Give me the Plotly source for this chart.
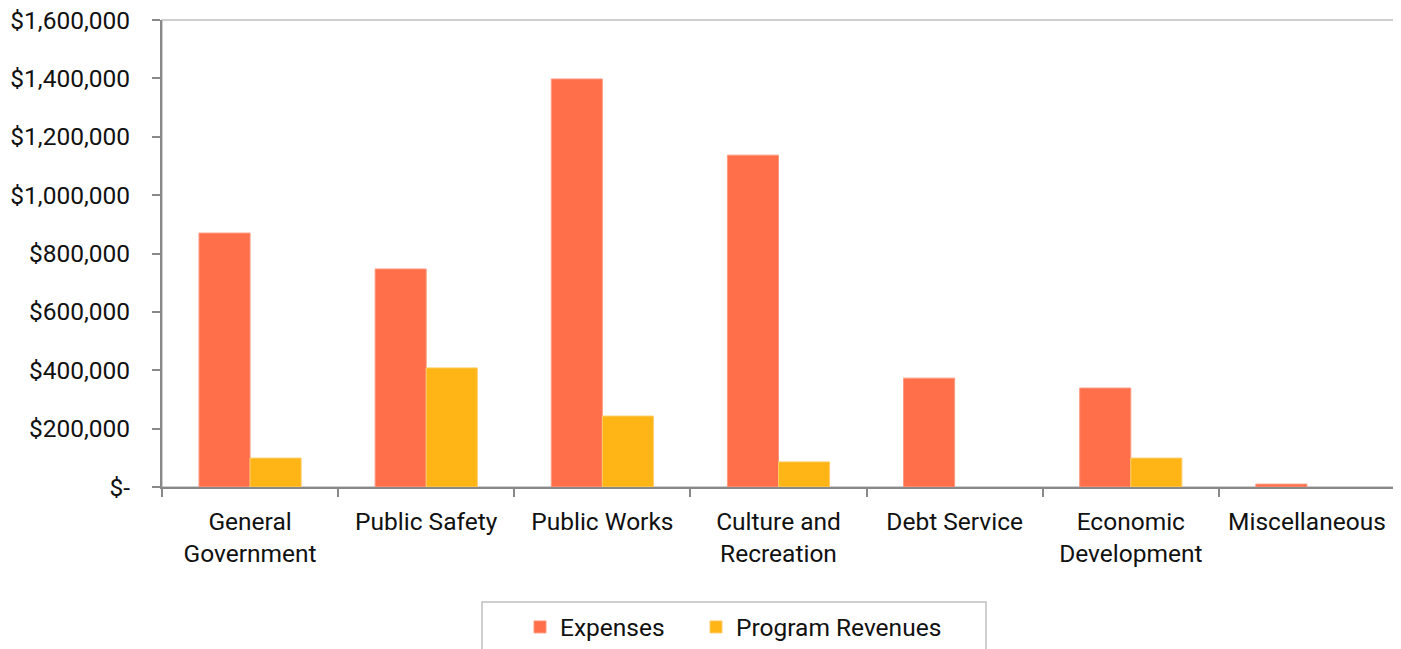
import plotly.graph_objects as go

categories = ["General<br>Government", "Public Safety", "Public Works", "Culture and<br>Recreation",
              "Debt Service", "Economic<br>Development", "Miscellaneous"]
expenses = [870000, 747000, 1398000, 1137000, 373000, 339000, 10000]
program_revenues = [99000, 408000, 243000, 86000, 0, 99000, 0]

tick_vals = [0, 200000, 400000, 600000, 800000, 1000000, 1200000, 1400000, 1600000]
tick_text = ["$-", "$200,000", "$400,000", "$600,000", "$800,000", "$1,000,000",
             "$1,200,000", "$1,400,000", "$1,600,000"]

# page body has an 8px margin; work in screen pixels and convert
OFF = 8
W, H = 1401 - OFF, 649 - OFF
# screen-space plot box
SX0, SX1, SY0, SY1 = 162, 1395, 20, 487
L = SX0 - OFF
T = SY0 - OFF
R = W - (SX1 - OFF)
B = H - (SY1 - OFF)
pw = W - L - R
ph = H - T - B

def px2x(x):
    return (x - OFF - L) / pw

def px2y(y):
    return (H - B - (y - OFF)) / ph

def cx(x):
    return (x - OFF) / W

def cy(y):
    return (H - (y - OFF)) / H

FONT = "Roboto"
FS = 24.5

fig = go.Figure()
fig.add_trace(go.Bar(x=categories, y=expenses, name="Expenses", legend="legend",
                     marker=dict(color="#FF6F4A",
                                 line=dict(color="#FF9A80",
                                           width=[1 if v > 0 else 0 for v in expenses]))))
fig.add_trace(go.Bar(x=categories, y=program_revenues, name="Program Revenues", legend="legend2",
                     marker=dict(color="#FFB515",
                                 line=dict(color="#FFCC66",
                                           width=[1 if v > 0 else 0 for v in program_revenues]))))

leg_common = dict(orientation="h", xref="container", yref="container",
                  xanchor="left", yanchor="middle", y=cy(627),
                  font=dict(family=FONT, size=FS, color="#111111"),
                  bgcolor="rgba(0,0,0,0)", borderwidth=0)

fig.update_layout(
    width=W, height=H,
    margin=dict(l=L, r=R, t=T, b=B, pad=0, autoexpand=False),
    paper_bgcolor="white", plot_bgcolor="white",
    font=dict(family=FONT, size=FS, color="#111111"),
    barmode="group", bargap=0.42, bargroupgap=0,
    showlegend=True,
    legend=dict(x=cx(520), **leg_common),
    legend2=dict(x=cx(696), **leg_common),
    shapes=[
        dict(type="rect", xref="paper", yref="paper", x0=0, x1=1, y0=0, y1=1,
             line=dict(color="#BFBFBF", width=1.5), layer="below"),
        dict(type="rect", xref="paper", yref="paper", x0=px2x(482), x1=px2x(986),
             y0=px2y(602), y1=px2y(680), line=dict(color="#BFBFBF", width=1.5)),
    ],
)
fig.update_xaxes(showline=True, linecolor="#898989", linewidth=2, ticks="outside",
                 tickson="boundaries", ticklen=8, tickcolor="#898989", tickwidth=2,
                 showgrid=False, ticklabelstandoff=12, automargin=False)
fig.update_yaxes(range=[0, 1600000], tickvals=tick_vals, ticktext=tick_text,
                 showline=True, linecolor="#898989", linewidth=2, ticks="outside",
                 ticklen=8, tickcolor="#898989", tickwidth=2, showgrid=False,
                 ticklabelstandoff=17, zeroline=False, automargin=False,
                 ticklabeloverflow="allow")

fig.write_html("out.html")
